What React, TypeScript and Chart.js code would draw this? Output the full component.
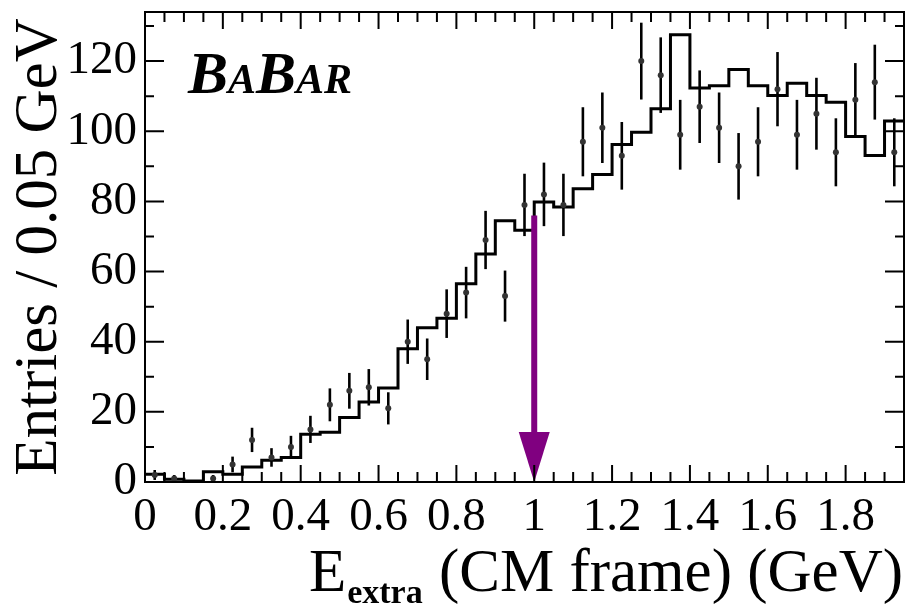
import React, { useEffect, useRef } from "react";
import { Chart, registerables } from "chart.js";

Chart.register(...registerables);

// ---- data ----
const BIN_WIDTH = 0.05; // GeV
const X_MIN = 0;
const X_MAX = 1.95;
const Y_MIN = 0;
const Y_MAX = 134;
const X_TICKS = [0, 0.2, 0.4, 0.6, 0.8, 1, 1.2, 1.4, 1.6, 1.8];
const Y_TICKS = [0, 20, 40, 60, 80, 100, 120];
const X_MINOR_STEP = 0.05;
const Y_MINOR_STEP = 10;

// MC expectation histogram (entries per bin)
const MC_HIST = [
  2.2, 0.8, 0.3, 2.9, 2.2, 4.3, 6.2, 7, 13.6, 14.2, 18.4, 22.8, 26.8, 38, 44, 46.7,
  56.5, 65, 74.5, 71.8, 79.8, 78.4, 83.6, 87.7, 96.2, 99.7, 106.4, 127.5, 112.3,
  113, 117.6, 113, 110.2, 113.7, 110.2, 108.3, 98.5, 93.1, 102.9,
];

// Observed data counts per bin
const DATA_COUNTS = [
  2, 1, 0, 1, 5, 12, 7, 10, 15, 22, 26, 27, 21, 40, 35, 48, 54, 69, 53, 79, 82, 79,
  97, 101, 93, 120, 116, 99, 107, 101, 90, 97, 112, 99, 105, 94, 109, 114, 94,
];

// Signal-region cut arrow
const CUT_VALUE = 1.0;
const ARROW_TOP = 76;

const SERIF = '"Liberation Serif", "DejaVu Serif", serif';

const histPoints = MC_HIST.map((v, i) => ({ x: i * BIN_WIDTH, y: v }));
histPoints.push({ x: MC_HIST.length * BIN_WIDTH, y: MC_HIST[MC_HIST.length - 1] });

const dataPoints = DATA_COUNTS.map((n, i) => ({ x: (i + 0.5) * BIN_WIDTH, y: n })).filter(
  (p) => p.y > 0
);

const errorBarPlugin = {
  id: "errorBars",
  beforeDatasetsDraw(chart: any) {
    const { ctx, chartArea, scales } = chart;
    const x = scales.x;
    const y = scales.y;
    ctx.save();
    ctx.beginPath();
    ctx.rect(chartArea.left, chartArea.top, chartArea.right - chartArea.left, chartArea.bottom - chartArea.top);
    ctx.clip();
    ctx.strokeStyle = "#000";
    ctx.lineWidth = 2.6;
    DATA_COUNTS.forEach((n, i) => {
      if (n <= 0) return;
      const err = Math.sqrt(n);
      const xc = x.getPixelForValue((i + 0.5) * BIN_WIDTH);
      ctx.beginPath();
      ctx.moveTo(xc, y.getPixelForValue(n - err));
      ctx.lineTo(xc, y.getPixelForValue(n + err));
      ctx.stroke();
    });
    ctx.restore();
  },
};

const arrowPlugin = {
  id: "cutArrow",
  afterDatasetsDraw(chart: any) {
    const { ctx, scales } = chart;
    const x = scales.x;
    const y = scales.y;
    const xp = x.getPixelForValue(CUT_VALUE);
    const yTop = y.getPixelForValue(ARROW_TOP);
    const yTip = y.getPixelForValue(0);
    const headLen = 50;
    const headHalf = 15.5;
    ctx.save();
    ctx.strokeStyle = "#800080";
    ctx.fillStyle = "#800080";
    ctx.lineWidth = 6;
    ctx.beginPath();
    ctx.moveTo(xp, yTop);
    ctx.lineTo(xp, yTip - headLen + 2);
    ctx.stroke();
    ctx.beginPath();
    ctx.moveTo(xp - headHalf, yTip - headLen);
    ctx.lineTo(xp + headHalf, yTip - headLen);
    ctx.lineTo(xp, yTip);
    ctx.closePath();
    ctx.fill();
    ctx.restore();
  },
};

const framePlugin = {
  id: "frameAndText",
  afterDraw(chart: any) {
    const { ctx, chartArea, scales } = chart;
    const x = scales.x;
    const y = scales.y;
    const { left, right, top, bottom } = chartArea;
    ctx.save();
    ctx.strokeStyle = "#000";
    ctx.lineWidth = 2;
    ctx.strokeRect(left, top, right - left, bottom - top);

    // x ticks (bottom & top)
    const nx = Math.round((X_MAX - X_MIN) / X_MINOR_STEP);
    for (let k = 0; k <= nx; k++) {
      const v = X_MIN + k * X_MINOR_STEP;
      const major = k % 4 === 0;
      const len = major ? 17 : 10;
      const px = x.getPixelForValue(v);
      ctx.beginPath();
      ctx.moveTo(px, bottom);
      ctx.lineTo(px, bottom - len);
      ctx.moveTo(px, top);
      ctx.lineTo(px, top + len);
      ctx.stroke();
    }
    // y ticks (left & right)
    for (let v = Y_MIN; v <= Y_MAX; v += Y_MINOR_STEP) {
      const major = v % 20 === 0;
      const len = major ? 19 : 9;
      const py = y.getPixelForValue(v);
      ctx.beginPath();
      ctx.moveTo(left, py);
      ctx.lineTo(left + len, py);
      ctx.moveTo(right, py);
      ctx.lineTo(right - len, py);
      ctx.stroke();
    }

    // BABAR logo
    ctx.fillStyle = "#000";
    ctx.textBaseline = "alphabetic";
    ctx.textAlign = "left";
    const logo: [string, number][] = [
      ["B", 60],
      ["A", 42],
      ["B", 60],
      ["AR", 42],
    ];
    let lx = 188;
    const lb = 93;
    for (const [t, s] of logo) {
      ctx.font = `italic bold ${s}px ${SERIF}`;
      ctx.fillText(t, lx, lb);
      lx += ctx.measureText(t).width;
    }

    // x-axis title with subscript
    const base = 591;
    ctx.font = `61px ${SERIF}`;
    const wE = ctx.measureText("E").width;
    const rest = " (CM frame) (GeV)";
    const wRest = ctx.measureText(rest).width;
    ctx.font = `bold 34px ${SERIF}`;
    const wSub = ctx.measureText("extra").width;
    let tx = 903 - (wE + wSub + 2 + wRest);
    ctx.font = `61px ${SERIF}`;
    ctx.fillText("E", tx, base);
    tx += wE + 1;
    ctx.font = `bold 34px ${SERIF}`;
    ctx.fillText("extra", tx, base + 12);
    tx += wSub + 1;
    ctx.font = `61px ${SERIF}`;
    ctx.fillText(rest, tx, base);
    ctx.restore();
  },
};

export default function App() {
  const ref = useRef<HTMLCanvasElement>(null);
  useEffect(() => {
    if (!ref.current) return;
    const chart = new Chart(ref.current, {
      type: "line",
      data: {
        datasets: [
          {
            type: "scatter",
            data: dataPoints,
            pointRadius: 3,
            pointBackgroundColor: "#333",
            pointBorderWidth: 0,
            showLine: false,
          } as any,
          {
            type: "line",
            data: histPoints,
            borderColor: "#000",
            borderWidth: 3,
            pointRadius: 0,
            stepped: true,
            fill: false,
          } as any,
        ],
      },
      options: {
        animation: false,
        responsive: false,
        devicePixelRatio: 1,
        events: [],
        layout: { padding: { top: 12, right: 4, left: 0, bottom: 0 } },
        plugins: {
          legend: { display: false },
          tooltip: { enabled: false },
        },
        scales: {
          x: {
            type: "linear",
            min: X_MIN,
            max: X_MAX,
            grid: { display: false, drawTicks: false },
            border: { display: false },
            afterBuildTicks: (s: any) => {
              s.ticks = X_TICKS.map((v) => ({ value: v }));
            },
            afterFit: (s: any) => {
              s.height = 126;
              s.paddingLeft = 0;
              s.paddingRight = 0;
            },
            ticks: {
              padding: 7,
              maxRotation: 0,
              autoSkip: false,
              color: "#000",
              font: { family: SERIF, size: 47 },
              callback: (v: any) => String(Math.round(Number(v) * 10) / 10),
            },
          },
          y: {
            type: "linear",
            min: Y_MIN,
            max: Y_MAX,
            grid: { display: false, drawTicks: false },
            border: { display: false },
            afterBuildTicks: (s: any) => {
              s.ticks = Y_TICKS.map((v) => ({ value: v }));
            },
            afterFit: (s: any) => {
              s.width = 145;
              s.paddingTop = 0;
              s.paddingBottom = 0;
            },
            ticks: {
              padding: 8,
              autoSkip: false,
              color: "#000",
              font: { family: SERIF, size: 47 },
            },
            title: {
              display: true,
              text: "Entries / 0.05 GeV",
              color: "#000",
              font: { family: SERIF, size: 61 },
              padding: { top: 3, bottom: 0 },
            },
          },
        },
      },
      plugins: [errorBarPlugin, arrowPlugin, framePlugin],
    });
    return () => chart.destroy();
  }, []);
  return (
    <div style={{ position: "fixed", left: 0, top: 0, width: 908, height: 608, background: "#fff" }}>
      <canvas ref={ref} width={908} height={608} style={{ width: 908, height: 608, display: "block" }} />
    </div>
  );
}
